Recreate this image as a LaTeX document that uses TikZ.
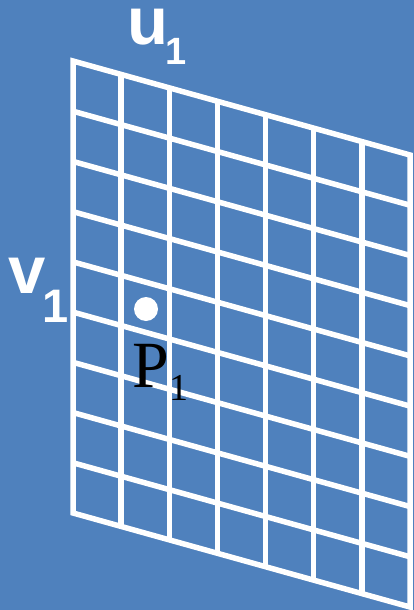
\documentclass[tikz,border=0pt]{standalone}
\usepackage{fontspec}
\setmainfont{Liberation Serif}
\newfontfamily\labelfont{Liberation Sans}
\usetikzlibrary{calc}
\definecolor{bgblue}{HTML}{4F81BD}
\tikzset{
  gridline/.style={white, line width=5.5pt},
  axislabel/.style={white, inner sep=0pt, anchor=base west, font=\labelfont\bfseries},
}
\begin{document}
\begin{tikzpicture}[x=1pt, y=-1pt]
	%fond
	\fill[bgblue] (0,0) rectangle (414,610);
	\useasboundingbox (0,0) rectangle (414,610);
	%coins du plan
	\coordinate (TL) at (73,61);
	\coordinate (TR) at (410,155);
	\coordinate (BR) at (410,607);
	\coordinate (BL) at (73,513);
	%grille
	\foreach \i in {1,...,6}
		\draw[gridline] ($(TL)!\i/7!(TR)$) -- ($(BL)!\i/7!(BR)$);
	\foreach \j in {1,...,8}
		\draw[gridline] ($(TL)!\j/9!(BL)$) -- ($(TR)!\j/9!(BR)$);
	\draw[gridline, line join=miter] (TL) -- (TR) -- (BR) -- (BL) -- cycle;
	%etiquettes
	\node[axislabel] (u1) at (127,45) {\fontsize{67}{67}\selectfont u\kern-3pt\raisebox{-20pt}{\fontsize{38}{38}\selectfont 1}};
	\node[axislabel] (v1) at (8,293) {\fontsize{67}{67}\selectfont v\kern-3pt\raisebox{-29pt}{\fontsize{47}{47}\selectfont 1}};
	%point
	\fill[white] (146,309) circle (12);
	\node[black, inner sep=0pt, anchor=base west] (P1) at (132,387) {\fontsize{66}{66}\selectfont P\kern1pt\raisebox{-13pt}{\fontsize{38}{38}\selectfont 1}};
\end{tikzpicture}
\end{document}
